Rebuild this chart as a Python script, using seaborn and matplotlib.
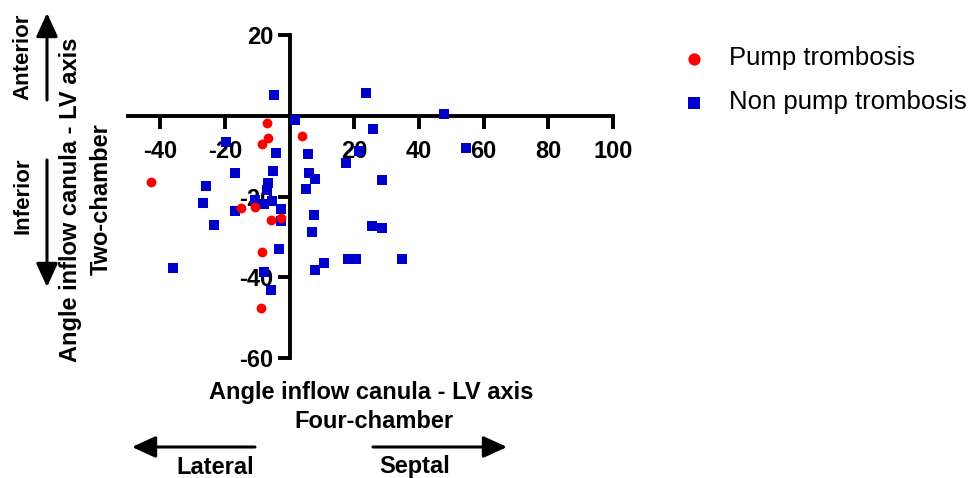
import matplotlib
matplotlib.use("Agg")
import matplotlib.pyplot as plt
import seaborn as sns
import pandas as pd

# ---- data ----
pump_x = [-7.1, -6.6, -8.5, 3.9, -42.8, -15.0, -10.7, -5.7, -2.8, -8.5, -9.0]
pump_y = [-1.9, -5.5, -7.1, -5.1, -16.4, -22.9, -22.5, -25.8, -25.4, -33.7, -47.7]

non_x = [-4.8, 1.5, -19.6, -4.3, 5.8, -5.3, -16.9, 6.1, 7.9, -6.7, -6.9, -25.9, 5.1,
         -26.9, -10.7, -7.9, -5.4, -2.6, -17.0, -2.8, -23.5, 7.4, 6.9, -3.3, -36.2,
         -7.9, 7.7, -5.9, 23.5, 47.7, 25.7, 54.5, 21.4, 17.3, 28.6, 25.5, 28.5, 18.0,
         20.6, 34.7, 10.5]
non_y = [5.1, -1.1, -6.5, -9.3, -9.5, -13.7, -14.2, -14.2, -15.7, -16.7, -18.5, -17.3,
         -18.2, -21.7, -20.9, -21.9, -21.2, -23.1, -23.7, -26.0, -27.1, -24.5, -28.9,
         -33.1, -37.7, -38.7, -38.2, -43.1, 5.7, 0.5, -3.2, -8.0, -8.8, -11.8, -16.0,
         -27.3, -27.8, -35.5, -35.5, -35.5, -36.4]

groups = ["Pump trombosis", "Non pump trombosis"]
x_ticks = [-40, -20, 20, 40, 60, 80, 100]
y_ticks = [20, -20, -40, -60]

sns.set_style("white")
plt.rcParams["font.family"] = ["Liberation Sans", "DejaVu Sans"]
plt.rcParams["text.color"] = "black"
plt.rcParams["xtick.color"] = "black"
plt.rcParams["ytick.color"] = "black"
plt.rcParams["axes.labelcolor"] = "black"

df_p = pd.DataFrame({"x": pump_x, "y": pump_y, "group": groups[0]})
df_n = pd.DataFrame({"x": non_x, "y": non_y, "group": groups[1]})

W, H = 968, 478
fig = plt.figure(figsize=(W / 100, H / 100), dpi=100)
ax = fig.add_axes([128 / W, 1 - 358 / H, 485 / W, 323 / H])

RED = "#FF0000"
BLUE = "#0000CC"

sns.scatterplot(data=df_n, x="x", y="y", marker="s", color=BLUE, s=42,
                linewidth=0, ax=ax, zorder=3, label=groups[1])
sns.scatterplot(data=df_p, x="x", y="y", marker="o", color=RED, s=50,
                linewidth=0, ax=ax, zorder=4, label=groups[0])

ax.set_xlim(-50, 100)
ax.set_ylim(-60, 20)
ax.set_xlabel("")
ax.set_ylabel("")

for s in ["top", "right"]:
    ax.spines[s].set_visible(False)
ax.spines["left"].set_position(("data", 0))
ax.spines["bottom"].set_position(("data", 0))
for s in ["left", "bottom"]:
    ax.spines[s].set_linewidth(2.8)
    ax.spines[s].set_color("black")
    ax.spines[s].set_zorder(2)

ax.set_xticks(x_ticks)
ax.set_yticks(y_ticks)
ax.set_xticklabels([str(v) for v in x_ticks])
ax.set_yticklabels([str(v) for v in y_ticks])
ax.tick_params(axis="both", direction="out", length=9, width=2.8, colors="black",
               labelsize=17)
ax.tick_params(axis="x", bottom=True, pad=8.5)
ax.tick_params(axis="y", left=True, pad=3)
for lab in ax.get_xticklabels() + ax.get_yticklabels():
    lab.set_fontweight("bold")
ax.patch.set_alpha(0)

# legend
h, l = ax.get_legend_handles_labels()
order = [l.index(groups[0]), l.index(groups[1])]
ax.get_legend().remove()
fig.legend([h[i] for i in order], [l[i] for i in order], loc="upper left",
           bbox_to_anchor=(671 / W, 1 - 36 / H), frameon=False, fontsize=18.5,
           handlelength=1.0, handletextpad=0.85, labelspacing=0.78,
           borderaxespad=0, markerscale=1.25)

# x label
fig.text(371 / W, 1 - 392 / H, "Angle inflow canula - LV axis", ha="center", va="center",
         fontsize=17, fontweight="bold")
fig.text(374 / W, 1 - 421 / H, "Four-chamber", ha="center", va="center",
         fontsize=17, fontweight="bold")

# y label
fig.text(71 / W, 1 - 200 / H, "Angle inflow canula - LV axis", rotation=90,
         ha="center", va="center", fontsize=17, fontweight="bold")
fig.text(101 / W, 1 - 199 / H, "Two-chamber", rotation=90,
         ha="center", va="center", fontsize=17, fontweight="bold")

# direction labels
fig.text(23 / W, 1 - 57 / H, "Anterior", rotation=90, ha="center", va="center",
         fontsize=16, fontweight="bold")
fig.text(23 / W, 1 - 196 / H, "Inferior", rotation=90, ha="center", va="center",
         fontsize=16, fontweight="bold")
fig.text(215 / W, 1 - 467 / H, "Lateral", ha="center", va="center",
         fontsize=17, fontweight="bold")
fig.text(415 / W, 1 - 467 / H, "Septal", ha="center", va="center",
         fontsize=17, fontweight="bold")

arrow_kw = dict(arrowstyle="-|>,head_length=0.72,head_width=0.33", mutation_scale=20,
                color="black", lw=2.2, shrinkA=0, shrinkB=0)


def farrow(x0, y0, x1, y1):
    fig.add_artist(matplotlib.patches.FancyArrowPatch(
        (x0 / W, 1 - y0 / H), (x1 / W, 1 - y1 / H), transform=fig.transFigure,
        **arrow_kw))


farrow(47, 100, 47, 13)
farrow(47, 160, 47, 287)
farrow(255, 447, 132, 447)
farrow(373, 447, 507, 447)

fig.savefig("out.png", dpi=100)
